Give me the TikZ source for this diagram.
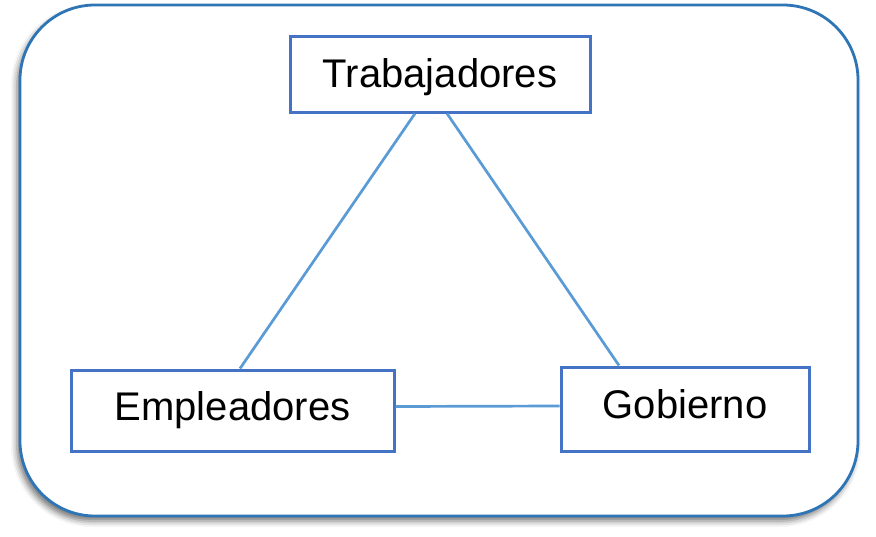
\documentclass[tikz,border=0pt]{standalone}
\usepackage{fontspec}
\setmainfont{Liberation Sans}
\usepackage{tikz}
\usetikzlibrary{shadows.blur}
\definecolor{boxblue}{RGB}{68,114,196}
\definecolor{lineblue}{RGB}{91,155,213}
\definecolor{frameblue}{RGB}{46,117,182}
\tikzset{
    party/.style={draw=boxblue, line width=3pt, inner sep=0pt, fill=white, font=\fontsize{40}{48}\selectfont},
    tie/.style={draw=lineblue, line width=2.7pt}
}
\begin{document}
\begin{tikzpicture}[x=1pt, y=-1pt]
        \useasboundingbox (0,0) rectangle (876,536);
        \draw[frameblue, line width=2.8pt, fill=white, rounded corners=75pt,
            blur shadow={shadow xshift=-3pt, shadow yshift=-5pt, shadow blur radius=6pt, shadow opacity=55}]
            (20,5) rectangle (858,516);
        \node(trab) [party, minimum width=300, minimum height=76, text depth=1pt] at (440,74) {Trabajadores};
        \node(emp) [party, minimum width=323, minimum height=81] at (232.5,410.5) {Empleadores};
        \node(gob) [party, minimum width=248, minimum height=84, text depth=10pt] at (685,409) {Gobierno};
        \draw[tie] ([xshift=-25pt]trab.south) -- ([xshift=7.5pt]emp.north);
        \draw[tie] ([xshift=7pt]trab.south) -- ([xshift=-66pt]gob.north);
        \draw[tie] ([yshift=4pt]emp.east) -- ([yshift=3pt]gob.west);
    \end{tikzpicture}
\end{document}
